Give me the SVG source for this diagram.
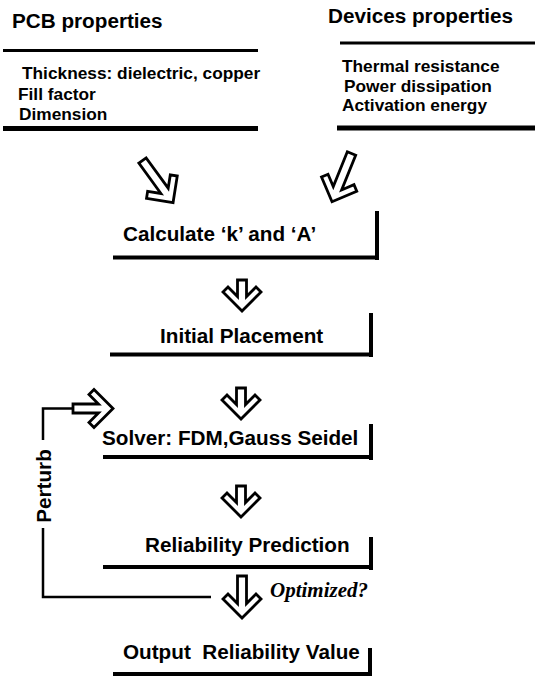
<svg xmlns="http://www.w3.org/2000/svg" width="535" height="679" viewBox="0 0 535 679">
<style>
text{font-family:"Liberation Sans",Arial,sans-serif;font-weight:bold;fill:#000}
.t{font-size:20.7px}
.i{font-size:17.3px}
.o{font-family:"Liberation Serif","Times New Roman",serif;font-style:italic;font-size:21px}
.rule{stroke:#000;fill:none}
.arr{fill:#fff;stroke:#000;stroke-width:2.8;stroke-linejoin:miter}
.ln{fill:none;stroke:#000;stroke-width:2.5}
</style>
<defs>
<path id="a31" d="M-4.5,0 H4.5 V16.5 L14,7 L19,12 L0,31 L-19,12 L-14,7 L-4.5,16.5 Z"/>
<path id="a40" d="M-4.5,0 H4.5 V25.5 L14,16 L19,21 L0,40 L-19,21 L-14,16 L-4.5,25.5 Z"/>
<path id="a42" d="M-4.5,0 H4.5 V27.5 L14,18 L19,23 L0,42 L-19,23 L-14,18 L-4.5,27.5 Z"/>
<path id="a52" d="M-4.5,0 H4.5 V37.5 L14,28 L19,33 L0,52 L-19,33 L-14,28 L-4.5,37.5 Z"/>
</defs>

<g id="pcb">
<text class="t" x="12" y="28">PCB properties</text>
<line class="rule" x1="3" y1="50.5" x2="258" y2="50.5" stroke-width="3"/>
<text class="i" x="22" y="79">Thickness: dielectric, copper</text>
<text class="i" x="18" y="99.5">Fill factor</text>
<text class="i" x="19" y="120">Dimension</text>
<line class="rule" x1="3" y1="128.5" x2="258" y2="128.5" stroke-width="5"/>
</g>

<g id="devices">
<text class="t" x="328" y="23">Devices properties</text>
<line class="rule" x1="340" y1="43" x2="535" y2="43" stroke-width="3"/>
<text class="i" x="342" y="72">Thermal resistance</text>
<text class="i" x="344" y="91.5">Power dissipation</text>
<text class="i" x="342" y="111">Activation energy</text>
<line class="rule" x1="337" y1="128" x2="535" y2="128" stroke-width="5"/>
</g>

<g id="calc">
<text class="t" x="123" y="241">Calculate ‘k’ and ‘A’</text>
<path class="rule" d="M113,257.5 H377 M377,211 V260" stroke-width="4"/>
</g>

<g id="initial">
<text class="t" x="160" y="343">Initial Placement</text>
<path class="rule" d="M110,354.5 H371 M371,313 V357" stroke-width="4"/>
</g>

<g id="solver">
<text class="t" x="102" y="445">Solver: FDM,Gauss Seidel</text>
<path class="rule" d="M103,457 H371 M371,424 V460" stroke-width="4"/>
</g>

<g id="reliability">
<text class="t" x="145" y="552">Reliability Prediction</text>
<path class="rule" d="M103,567 H371 M371,537 V570" stroke-width="4"/>
</g>

<g id="output">
<text class="t" x="123" y="659" xml:space="preserve">Output  Reliability Value</text>
<path class="rule" d="M113,674 H370 M370,648 V676" stroke-width="4"/>
</g>

<g id="connectors">
<use href="#a52" class="arr" transform="translate(142.5,160.5) rotate(-36)"/>
<use href="#a52" class="arr" transform="translate(351.5,153.5) rotate(22)"/>
<use href="#a31" class="arr" transform="translate(242,280)"/>
<use href="#a31" class="arr" transform="translate(241,388)"/>
<use href="#a31" class="arr" transform="translate(241,486)"/>
<use href="#a42" class="arr" transform="translate(242,576)"/>
<path class="ln" d="M73,408.5 H43 V440 M43,528 V597 H211"/>
<use href="#a40" class="arr" transform="translate(73,408.5) rotate(-90)"/>
<text class="t" transform="translate(51,486) rotate(-90)" text-anchor="middle">Perturb</text>
<text class="o" x="270" y="597">Optimized?</text>
</g>
</svg>
